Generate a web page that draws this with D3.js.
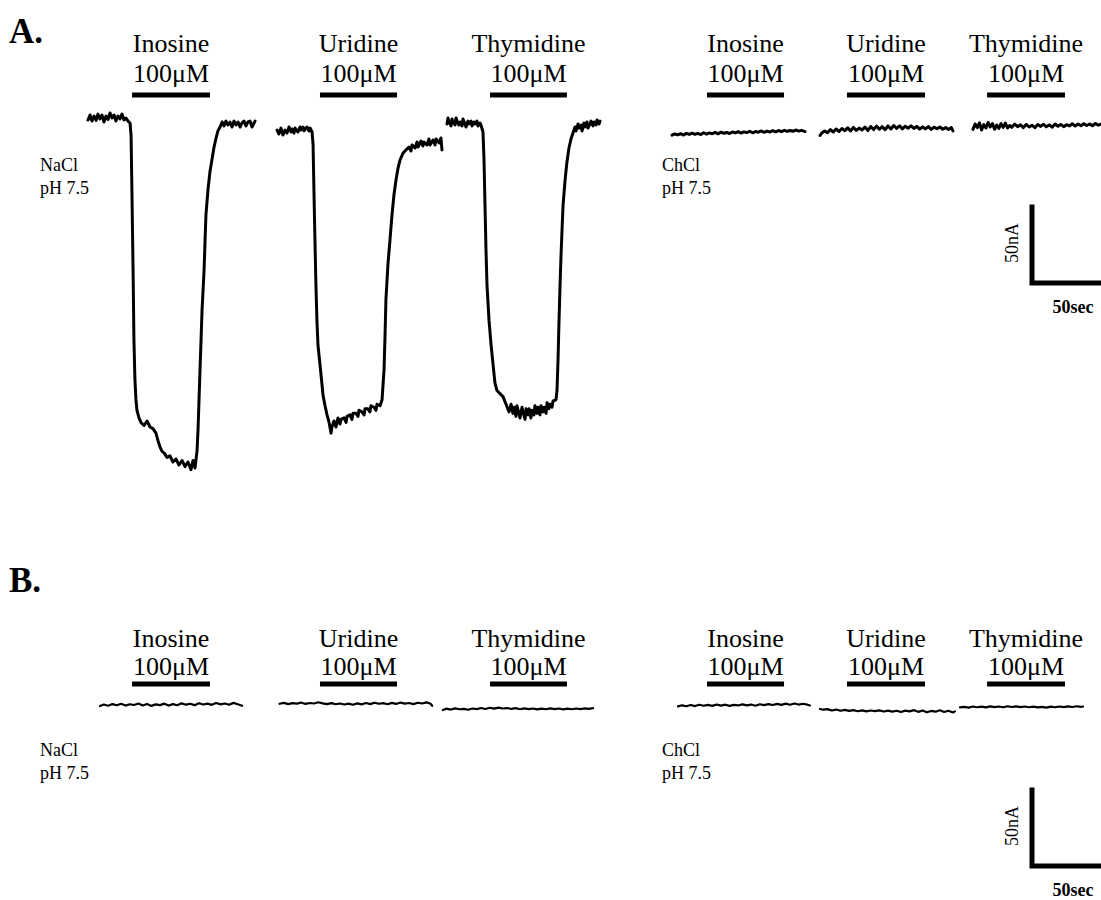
<!DOCTYPE html>
<html>
<head>
<meta charset="utf-8">
<script src="https://cdn.jsdelivr.net/npm/d3@7/dist/d3.min.js"></script>
<style>
  html, body { margin: 0; padding: 0; background: #fff; }
  svg { display: block; }
  text { font-family: "Liberation Serif", "Times New Roman", serif; fill: #000; }
</style>
</head>
<body>
<svg id="fig" width="1101" height="900"></svg>
<script>
// ---- recorded currents: [time (s), current (nA)] ----
const drugs = ["Inosine", "Uridine", "Thymidine"];
const concLabel = "100\u03BCM";

// substrate application windows (s)
const naclApply = [[30.6, 84.7], [161.1, 214.6], [279.2, 332.6]];
const chclApply = [[24.3, 77.8], [121.5, 175.7], [218.8, 272.9]];

// A. NaCl pH 7.5
const aNaInosine = [[0,0],[1.4,3.3],[2.8,-0.7],[4.2,2.6],[5.6,-0.3],[6.9,3.9],[8.3,0.7],[9.7,3.3],[11.1,-1.3],[12.5,2.6],[13.9,0.3],[15.3,4.6],[16.7,1.3],[18.1,3.3],[19.4,-0.7],[20.8,2.6],[22.2,0.7],[23.6,3.9],[25.0,0],[26.4,1.3],[27.8,-0.7],[29.2,-2.0],[29.9,-9.9],[30.6,-52.6],[31.3,-98.7],[31.9,-144.7],[32.6,-171],[33.3,-184],[34.0,-191],[35.4,-196],[36.8,-199],[38.9,-201],[41.0,-198],[43.1,-202],[45.1,-203],[47.2,-206],[48.6,-211],[50.0,-215],[51.4,-218],[52.8,-219],[54.9,-222],[56.9,-221],[59.0,-225],[61.1,-223],[63.2,-227],[65.3,-224],[67.4,-228],[69.4,-225],[71.5,-230],[72.9,-224],[74.3,-229],[75.7,-218],[76.4,-204],[77.1,-184],[77.8,-164],[78.5,-145],[79.2,-125],[80.6,-99],[81.3,-79],[81.9,-62.5],[83.3,-46],[84.7,-34],[86.1,-26],[87.5,-18],[88.9,-12],[90.3,-7],[91.7,-4.6],[93.1,-1.3],[94.4,-3.9],[95.8,-0.7],[97.2,-3.3],[98.6,-1.3],[100,-4.6],[101.4,-0.7],[102.8,-3.3],[104.2,-1.3],[105.6,-4.6],[106.9,-2.0],[108.3,-0.7],[109.7,-3.9],[111.1,-1.3],[112.5,-0.7],[113.9,-4.6],[115.3,-2.0],[116.0,-0.7]];
const aNaUridine = [[131.3,-6.6],[132.6,-9.2],[134.0,-5.3],[135.4,-9.9],[136.8,-6.6],[138.2,-8.6],[139.6,-4.6],[141.0,-7.9],[141.7,-5.9],[143.1,-8.6],[143.8,-5.3],[145.8,-7.9],[147.2,-4.6],[147.9,-6.6],[149.3,-4.6],[150.0,-7.2],[152.1,-4.6],[153.5,-7.2],[154.2,-5.3],[155.6,-7.9],[156.3,-16],[156.9,-46],[157.6,-79],[158.3,-109],[159.0,-132],[159.7,-148],[161.1,-161],[162.5,-174],[163.2,-181],[164.6,-188],[166.0,-194],[167.4,-199],[168.8,-206],[169.4,-202],[170.8,-198],[172.2,-202],[173.6,-196],[175.0,-200],[175.7,-197],[177.8,-196],[179.2,-199],[179.9,-195],[181.9,-194],[183.3,-197],[184.0,-193],[186.1,-193],[187.5,-195],[188.2,-191],[190.3,-192],[191.7,-194],[192.4,-190],[194.4,-190],[195.8,-192],[196.5,-188],[198.6,-189],[200.0,-191],[200.7,-187],[202.8,-188],[204.2,-184],[205.6,-164],[206.3,-141],[206.9,-118],[208.3,-95],[209.7,-79],[211.1,-62.5],[212.5,-49],[213.9,-39.5],[215.3,-31.6],[216.7,-26.3],[218.8,-21.7],[220.8,-19.7],[222.9,-17.8],[224.3,-20.4],[225.0,-16.4],[227.1,-18.4],[228.5,-14.5],[229.2,-17.8],[231.3,-13.8],[232.6,-17.1],[233.3,-14.5],[235.4,-16.4],[236.8,-12.5],[237.5,-16.4],[239.6,-13.2],[241.0,-16.4],[241.7,-12.5],[243.8,-15.1],[245.1,-11.8],[245.8,-19.7]];
const aNaThymidine = [[249.3,-2.6],[250.0,1.3],[250.7,-1.3],[252.1,-3.9],[252.8,0.7],[253.5,-1.3],[254.9,-3.3],[255.6,1.3],[256.3,-0.7],[257.6,-3.3],[258.3,-1.3],[259.7,-3.9],[260.4,0.7],[261.8,-2.6],[262.5,-4.6],[263.9,-0.7],[264.6,-2.6],[266.0,-0.7],[266.7,-3.9],[268.1,-1.3],[268.8,-2.6],[270.1,-0.7],[270.8,-3.9],[272.2,-2.0],[272.9,-3.3],[274.3,-7.9],[275.0,-26],[275.7,-56],[276.4,-86],[277.1,-109],[278.5,-132],[279.9,-148],[281.3,-161],[282.6,-173],[284.0,-178],[286.1,-180],[288.2,-182],[290.3,-187],[292.4,-192],[293.8,-187],[295.1,-193],[295.8,-189],[297.2,-195],[297.9,-188],[299.3,-193],[300.0,-196],[301.4,-189],[302.1,-192],[303.5,-197],[304.2,-190],[305.6,-194],[306.3,-190],[307.6,-196],[308.3,-191],[309.7,-194],[310.4,-188],[311.8,-193],[312.5,-189],[313.9,-194],[314.6,-188],[316.0,-192],[316.7,-189],[318.1,-193],[318.8,-186],[320.1,-190],[320.8,-187],[322.2,-189],[322.9,-185],[325.0,-184],[325.7,-178],[326.4,-158],[327.1,-132],[327.8,-109],[328.5,-89],[329.2,-72],[329.9,-56],[331.3,-39.5],[332.6,-27.6],[334.0,-18.4],[335.4,-12.5],[336.8,-8.6],[338.2,-4.6],[338.9,-7.2],[340.3,-2.6],[341.0,-5.3],[342.4,-3.3],[343.1,-7.2],[344.4,-2.0],[345.1,-4.6],[346.5,-1.3],[347.2,-5.3],[348.6,-2.6],[349.3,-0.7],[350.7,-3.9],[351.4,-1.3],[352.8,-3.3],[353.5,0],[354.9,-2.6],[355.6,-0.7]];

// A. ChCl pH 7.5
const aChInosine = [[0,-10.0],[2,-9.2],[4,-9.8],[6,-9.0],[8,-9.9],[10,-8.8],[12,-9.5],[14,-8.6],[16,-9.4],[18,-8.8],[20,-9.6],[22,-8.4],[24,-9.3],[26,-8.5],[28,-9.0],[30,-8.1],[32,-9.1],[34,-8.0],[36,-8.7],[38,-8.2],[40,-8.9],[42,-7.9],[44,-8.5],[46,-7.7],[48,-8.6],[50,-7.8],[52,-8.3],[54,-7.4],[56,-8.4],[58,-7.6],[60,-8.0],[62,-7.2],[64,-8.1],[66,-7.3],[68,-7.9],[70,-7.0],[72,-7.8],[74,-6.9],[76,-7.6],[78,-6.8],[80,-7.5],[82,-6.9],[84,-7.4],[86,-6.6],[88,-7.3],[90,-6.8],[92.4,-7.6]];
const aChUridine = [[102.8,-10.2],[104,-8.6],[106,-7.2],[108,-8.4],[110,-6.3],[112,-7.9],[114,-5.9],[116,-7.6],[118,-5.6],[120,-7.0],[122,-5.2],[124,-7.2],[126,-4.9],[128,-6.8],[130,-5.3],[132,-6.6],[134,-4.6],[136,-6.9],[138,-4.3],[140,-6.3],[142,-4.0],[144,-6.1],[146,-4.4],[148,-6.4],[150,-3.9],[152,-5.9],[154,-3.6],[156,-5.5],[158,-3.9],[160,-5.8],[162,-4.1],[164,-5.4],[166,-3.8],[168,-5.6],[170,-4.2],[172,-6.0],[174,-4.5],[176,-5.9],[178,-4.3],[180,-6.2],[182,-4.7],[184,-5.8],[186,-4.6],[188,-6.1],[190,-4.9],[192,-6.3],[194,-5.0],[195.1,-7.2]];
const aChThymidine = [[209,-6.2],[210.5,-2.6],[212,-5.0],[213.5,-1.9],[215,-6.6],[216.5,-3.0],[218,-5.3],[219.5,-1.6],[221,-4.6],[222.5,-2.3],[224,-6.1],[225.5,-3.3],[227,-5.6],[228.5,-2.4],[230,-4.9],[231.5,-2.0],[233,-5.2],[234.5,-3.6],[236,-4.8],[238,-2.7],[240,-4.4],[242,-3.1],[244,-5.0],[246,-2.9],[248,-4.6],[250,-3.4],[252,-5.1],[254,-3.0],[256,-4.2],[258,-2.8],[260,-4.5],[262,-3.2],[264,-4.7],[266,-2.6],[268,-4.1],[270,-2.9],[272,-4.4],[274,-3.1],[276,-3.9],[278,-2.5],[280,-4.0],[282,-2.7],[284,-3.8],[286,-2.4],[288,-3.6],[290,-2.6],[292,-3.8],[294,-2.3],[296,-3.4],[298,-2.8]];

// B. NaCl pH 7.5
const bNaInosine = [[8.3,-0.7],[11,0.3],[14,-0.5],[17,0.6],[20,-0.2],[23,0.8],[26,-0.4],[29,0.5],[32,0.0],[35,1.0],[38,-0.3],[41,0.7],[44,-0.6],[47,0.4],[50,-0.1],[53,0.9],[56,-0.4],[59,0.6],[62,-0.2],[65,1.1],[68,0.2],[71,0.8],[74,-0.1],[77,1.2],[80,0.3],[83,0.9],[86,0.1],[89,1.3],[92,0.4],[95,1.0],[98,0.2],[101,1.4],[104,0.5],[107,-0.5]];
const bNaUridine = [[133,0.8],[136,1.4],[139,0.6],[142,1.2],[145,0.9],[148,1.6],[151,0.7],[154,1.3],[157,1.0],[160,1.8],[163,1.1],[166,0.6],[169,1.2],[172,0.5],[175,1.0],[178,0.3],[181,0.9],[184,0.2],[187,1.1],[190,0.4],[193,1.3],[196,0.6],[199,1.5],[202,0.8],[205,1.2],[208,0.5],[211,1.4],[214,0.7],[217,1.6],[220,0.9],[223,1.3],[226,0.6],[229,1.5],[232,1.0],[235,1.7],[238,0.8],[239,-0.5]];
const bNaThymidine = [[246.5,-3.3],[249,-2.4],[252,-3.0],[255,-2.2],[258,-2.8],[261,-2.5],[264,-3.1],[267,-2.3],[270,-2.7],[273,-2.0],[276,-2.6],[279,-1.8],[282,-2.4],[285,-1.7],[288,-2.3],[291,-2.0],[294,-2.6],[297,-2.1],[300,-2.8],[303,-2.2],[306,-2.7],[309,-2.3],[312,-2.9],[315,-2.4],[318,-2.8],[321,-2.2],[324,-2.7],[327,-2.3],[330,-2.9],[333,-2.4],[336,-2.8],[339,-2.3],[342,-2.7],[345,-2.2],[348,-2.6],[350.7,-2.1]];

// B. ChCl pH 7.5
const bChInosine = [[4.2,-0.9],[7,-0.2],[10,-0.8],[13,0.0],[16,-0.7],[19,0.2],[22,-0.5],[25,0.1],[28,-0.6],[31,0.3],[34,-0.4],[37,0.2],[40,-0.6],[43,0.1],[46,-0.3],[49,0.4],[52,-0.2],[55,0.3],[58,-0.5],[61,0.5],[64,-0.1],[67,0.6],[70,0.0],[73,0.7],[76,0.1],[79,0.9],[82,0.2],[85,1.0],[88,0.3],[91,0.8],[94,0.2],[95.8,-0.3]];
const bChUridine = [[102.8,-2.6],[105,-3.1],[108,-2.7],[111,-3.6],[114,-3.0],[117,-3.8],[120,-3.2],[123,-3.9],[126,-3.4],[129,-4.1],[132,-3.5],[135,-4.2],[138,-3.6],[141,-4.0],[144,-3.5],[147,-4.3],[150,-3.7],[153,-4.4],[156,-3.8],[159,-4.6],[162,-3.7],[165,-4.2],[168,-3.4],[171,-4.5],[174,-3.6],[177,-4.8],[180,-3.9],[183,-4.4],[186,-3.5],[189,-4.6],[192,-3.8],[195,-4.9],[196.5,-4.2]];
const bChThymidine = [[200,-1.6],[203,-1.2],[206,-1.7],[209,-1.0],[212,-1.5],[215,-1.1],[218,-1.6],[221,-0.9],[224,-1.4],[227,-1.0],[230,-1.5],[233,-0.8],[236,-1.3],[239,-0.9],[242,-1.4],[245,-1.0],[248,-1.5],[251,-1.1],[254,-1.6],[257,-1.2],[260,-1.7],[263,-1.1],[266,-1.5],[269,-1.0],[272,-1.4],[275,-0.9],[278,-1.3],[281,-0.8],[284,-1.2],[285.4,-1.0]];

// scale-bar sizes
const scaleCurrent = 50;   // nA
const scaleTime = 50;      // s

// ---- layout ----
const svg = d3.select("#fig");
const SEC = 1.44, NA = 1.52;           // px per second, px per nA
const xLeft  = d3.scaleLinear().domain([0, 360]).range([88, 88 + 360 * SEC]);
const xRight = d3.scaleLinear().domain([0, 300]).range([672, 672 + 300 * SEC]);

const rows = [
  { id: "A.", titleY: 43, zero: 120, labelY: 52, concY: 82, barY: 95, condY: 171,
    nacl: [aNaInosine, aNaUridine, aNaThymidine], chcl: [aChInosine, aChUridine, aChThymidine],
    stroke: 3.0, scaleTop: 207 },
  { id: "B.", titleY: 592, zero: 705, labelY: 647, concY: 675, barY: 684, condY: 756,
    nacl: [bNaInosine, bNaUridine, bNaThymidine], chcl: [bChInosine, bChUridine, bChThymidine],
    stroke: 2.2, scaleTop: 790 }
];

rows.forEach(row => {
  const y = d3.scaleLinear().domain([0, -250]).range([row.zero, row.zero + 250 * NA]);
  const g = svg.append("g");

  g.append("text").attr("x", 9).attr("y", row.titleY)
    .attr("font-size", 35).attr("font-weight", "bold").text(row.id);

  const sides = [
    { x: xLeft,  apply: naclApply, traces: row.nacl, cond: "NaCl", condX: 40 },
    { x: xRight, apply: chclApply, traces: row.chcl, cond: "ChCl", condX: 662 }
  ];

  sides.forEach(side => {
    const line = d3.line().x(d => side.x(d[0])).y(d => y(d[1]));

    side.traces.forEach(tr => {
      g.append("path").datum(tr).attr("d", line)
        .attr("fill", "none").attr("stroke", "#000")
        .attr("stroke-width", row.stroke)
        .attr("stroke-linejoin", "round").attr("stroke-linecap", "round");
    });

    side.apply.forEach((w, i) => {
      const x0 = side.x(w[0]), x1 = side.x(w[1]), cx = (x0 + x1) / 2;
      g.append("rect").attr("x", x0).attr("y", row.barY - 2.5)
        .attr("width", x1 - x0).attr("height", 5).attr("fill", "#000");
      g.append("text").attr("x", cx).attr("y", row.labelY)
        .attr("text-anchor", "middle").attr("font-size", 26).text(drugs[i]);
      g.append("text").attr("x", cx).attr("y", row.concY)
        .attr("text-anchor", "middle").attr("font-size", 26).text(concLabel);
    });

    g.append("text").attr("x", side.condX).attr("y", row.condY)
      .attr("font-size", 18).text(side.cond);
    g.append("text").attr("x", side.condX).attr("y", row.condY + 23)
      .attr("font-size", 18).text("pH 7.5");
  });

  // scale bar: 50 nA vertical, 50 s horizontal
  const vLen = y(-scaleCurrent) - y(0);
  const hLen = xRight(scaleTime) - xRight(0);
  const cx = 1032, top = row.scaleTop, bottom = top + vLen;
  g.append("path")
    .attr("d", `M${cx},${top}V${bottom}H${cx + hLen}`)
    .attr("fill", "none").attr("stroke", "#000").attr("stroke-width", 5)
    .attr("stroke-linecap", "square");
  g.append("text")
    .attr("transform", `translate(${cx - 14},${(top + bottom) / 2 - 2}) rotate(-90)`)
    .attr("text-anchor", "middle").attr("font-size", 18).text(scaleCurrent + "nA");
  g.append("text").attr("x", cx + 41).attr("y", bottom + 30)
    .attr("text-anchor", "middle").attr("font-size", 18).attr("font-weight", "bold")
    .text(scaleTime + "sec");
});
</script>
</body>
</html>
